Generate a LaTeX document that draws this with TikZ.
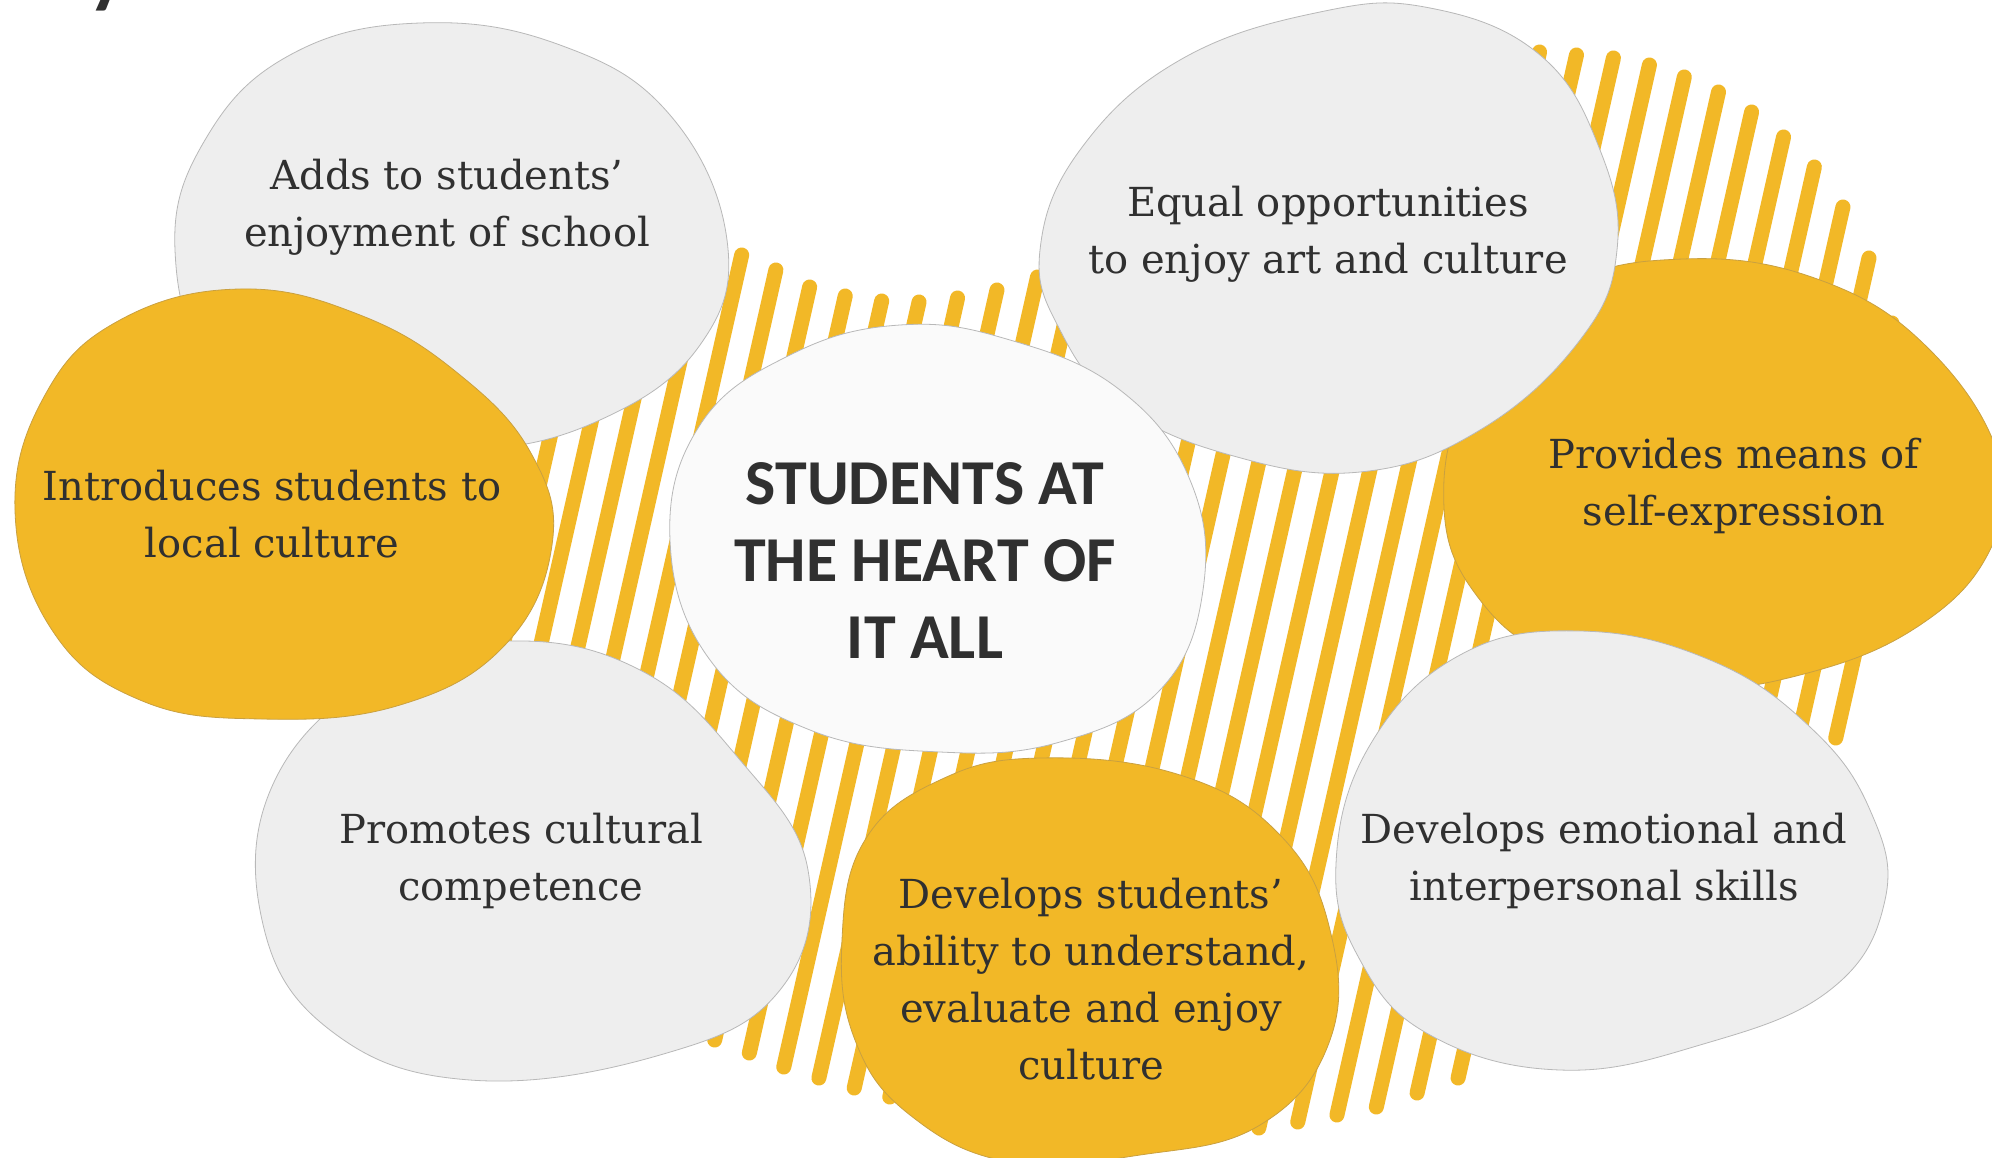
\documentclass[tikz,border=0pt]{standalone}
\usepackage{fontspec}
\setmainfont{DejaVu Serif}
\newfontfamily\headfont{Carlito}
\definecolor{ochre}{HTML}{F2B827}
\definecolor{blobgrey}{HTML}{EEEEEE}
\definecolor{blobwhite}{HTML}{FAFAFA}
\definecolor{txt}{HTML}{303030}
\definecolor{rim}{HTML}{B8B8B8}
\definecolor{rimy}{HTML}{C9A040}
\tikzset{
  stripe/.style={draw=ochre, line width=7.5pt, line cap=round},
  greyblob/.style={fill=blobgrey, draw=rim, line width=0.4pt},
  whiteblob/.style={fill=blobwhite, draw=rim, line width=0.4pt},
  yellowblob/.style={fill=ochre, draw=rimy, line width=0.4pt},
  bodytext/.style={text=txt, align=center, inner sep=0pt, font=\fontsize{20}{28.5}\selectfont},
  headtext/.style={text=txt, align=center, inner sep=0pt, font=\headfont\bfseries\fontsize{32}{38.5}\selectfont}
}
\begin{document}
\begin{tikzpicture}[x=0.5pt, y=-0.5pt]
\useasboundingbox (0,0) rectangle (1992,1157);
\clip (0,0) rectangle (1992,1157);
\fill[white] (0,0) rectangle (1992,1157);
% partial title glyph at top left
\node[anchor=base west, inner sep=0pt, text=txt, font=\headfont\bfseries\fontsize{40}{40}\selectfont] (ytail) at (88,-2) {y};
% stripes
\foreach \k/\t/\b in {-6/330/820,-5/300/840,-4/280/860,-3/260/880,-2/250/900,-1/245/920,
  0/255/955,1/270/970,2/287/985,3/296/1000,4/301/1040,5/302/1053,6/298/1067,7/290/1078,
  8/277/1088,9/250/1097,10/220/1105,11/190/1112,12/165/1118,13/140/1123,14/118/1127,
  15/100/1130,16/85/1132,17/72/1133,18/62/1132,19/56/1128,20/52/1122,21/55/1115,
  22/58/1107,23/65/1093,24/77/1078,25/92/1045,26/112/1010,27/137/970,28/167/920,
  29/207/870,30/258/820,31/323/775,32/400/738}{
  \pgfmathsetmacro\u{799.3+37.6*\k}
  \draw[stripe] ({\u-0.226*\t},\t) -- ({\u-0.226*\b},\b);
}
% Adds (grey)
\draw[greyblob] plot[smooth cycle, tension=0.7] coordinates {
 (175,250) (205,140) (290,55) (420,23) (560,45) (670,115) (727,240) (700,345)
 (600,420) (470,450) (330,435) (215,370)};
% Promotes (grey)
\draw[greyblob] plot[smooth cycle, tension=0.7] coordinates {
 (508,641) (640,670) (740,760) (808,870) (780,990) (660,1055) (470,1080)
 (330,1030) (262,920) (275,780) (380,675)};
% Introduces (yellow)
\draw[yellowblob] plot[smooth cycle, tension=0.7] coordinates {
 (15,510) (45,395) (120,320) (240,289) (360,315) (460,375) (532,455) (552,545)
 (505,645) (400,705) (262,719) (140,700) (52,630)};
% Provides (yellow)
\draw[yellowblob] plot[smooth cycle, tension=0.7] coordinates {
 (1444,508) (1470,390) (1560,290) (1683,259) (1820,280) (1930,350) (2000,460)
 (1990,550) (1917,627) (1800,675) (1680,688) (1560,660) (1480,600)};
% Equal (grey)
\draw[greyblob] plot[smooth cycle, tension=0.7] coordinates {
 (1040,250) (1080,150) (1180,60) (1320,12) (1430,8) (1540,55) (1600,150)
 (1617,250) (1580,340) (1480,430) (1360,472) (1230,455) (1120,405) (1060,330)};
% Emotional (grey)
\draw[greyblob] plot[smooth cycle, tension=0.7] coordinates {
 (1336,864) (1370,745) (1460,655) (1580,631) (1710,660) (1810,727) (1870,810)
 (1885,900) (1830,990) (1700,1045) (1560,1070) (1430,1035) (1360,960)};
% Develops (yellow)
\draw[yellowblob] plot[smooth cycle, tension=0.7] coordinates {
 (842,940) (865,840) (940,780) (1040,758) (1180,775) (1280,835) (1330,930)
 (1330,1040) (1260,1125) (1140,1155) (1010,1162) (910,1115) (855,1040)};
% centre (white)
\draw[whiteblob] plot[smooth cycle, tension=0.7] coordinates {
 (670,540) (700,425) (790,355) (900,325) (1010,340) (1120,390) (1190,480)
 (1203,590) (1160,690) (1060,742) (940,752) (810,730) (710,660)};
% texts
\node[bodytext] (adds) at (447,207) {Adds to students’\\enjoyment of school};
\node[bodytext] (intro) at (272,514) {Introduces students to\\local culture};
\node[bodytext] (promo) at (521,861) {Promotes cultural\\competence};
\node[headtext] (heart) at (925,561) {STUDENTS AT\\THE HEART OF\\IT ALL};
\node[bodytext] (equal) at (1328,234) {Equal opportunities\\to enjoy art and culture};
\node[bodytext] (self) at (1734,486) {Provides means of\\self-expression};
\node[bodytext] (emo) at (1604,861) {Develops emotional and\\interpersonal skills};
\node[bodytext] (ability) at (1091,979) {Develops students’\\ability to understand,\\evaluate and enjoy\\culture};
\end{tikzpicture}
\end{document}
